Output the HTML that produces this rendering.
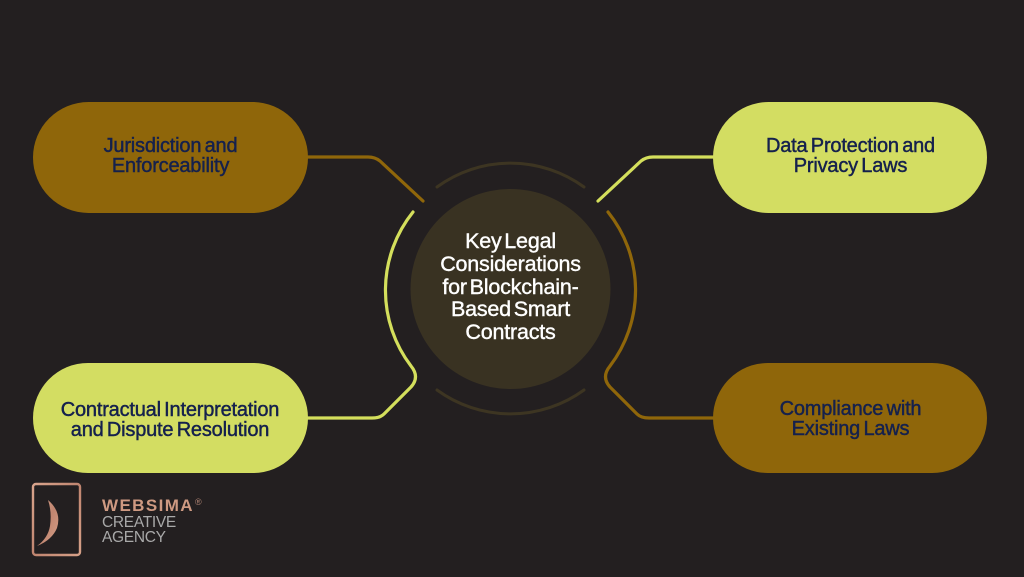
<!DOCTYPE html>
<html>
<head>
<meta charset="utf-8">
<style>
  html, body { margin: 0; padding: 0; background: #231f20; }
  body { width: 1024px; height: 577px; overflow: hidden; }
  svg { display: block; }
  .pt { font-family: "Liberation Sans", Arial, sans-serif; font-size: 20px; fill: #15214d; stroke: #15214d; stroke-width: 0.45px; word-spacing: -2px; letter-spacing: -0.2px; }
  .ct { font-family: "Liberation Sans", Arial, sans-serif; font-size: 21.5px; fill: #ffffff; stroke: #ffffff; stroke-width: 0.4px; word-spacing: -3px; letter-spacing: -0.2px; }
</style>
</head>
<body>
<svg width="1024" height="577" viewBox="0 0 1024 577" xmlns="http://www.w3.org/2000/svg">
  <rect x="0" y="0" width="1024" height="577" fill="#231f20"/>

  <!-- faint top/bottom arcs -->
  <path d="M 437 187 A 125 125 0 0 1 584 187" fill="none" stroke="#3d3522" stroke-width="3" stroke-linecap="round"/>
  <path d="M 437 390 A 125 125 0 0 0 584 390" fill="none" stroke="#3d3522" stroke-width="3" stroke-linecap="round"/>

  <!-- center circle -->
  <circle cx="510.5" cy="289" r="100" fill="#393222"/>

  <!-- connectors -->
  <path d="M 306 157 L 368 157 Q 375 157 380 161 L 423 201" fill="none" stroke="#8f660a" stroke-width="3.2" stroke-linecap="round" stroke-linejoin="round"/>
  <path d="M 715 157 L 653 157 Q 646 157 641 161 L 598 201" fill="none" stroke="#d4df5c" stroke-width="3.2" stroke-linecap="round" stroke-linejoin="round"/>
  <path d="M 413 212 A 125 125 0 0 0 411 366 Q 420 377 411 387 L 384 414 Q 380 418 372 418 L 306 418" fill="none" stroke="#d4df5c" stroke-width="3.2" stroke-linecap="round" stroke-linejoin="round"/>
  <path d="M 608 212 A 125 125 0 0 1 610 366 Q 601 377 610 387 L 637 414 Q 641 418 649 418 L 715 418" fill="none" stroke="#8f660a" stroke-width="3.2" stroke-linecap="round" stroke-linejoin="round"/>

  <!-- pills -->
  <rect x="33" y="102" width="275" height="111" rx="55.5" fill="#8f660a"/>
  <rect x="713" y="102" width="274" height="111" rx="55.5" fill="#d3dd62"/>
  <rect x="33" y="363" width="275" height="110" rx="55" fill="#d3dd62"/>
  <rect x="713" y="363" width="274" height="110" rx="55" fill="#8f660a"/>

  <!-- pill text -->
  <text class="pt" text-anchor="middle" x="170.5" y="152">Jurisdiction and</text>
  <text class="pt" text-anchor="middle" x="170.5" y="172">Enforceability</text>

  <text class="pt" text-anchor="middle" x="850.5" y="152">Data Protection and</text>
  <text class="pt" text-anchor="middle" x="850.5" y="172">Privacy Laws</text>

  <text class="pt" text-anchor="middle" x="170" y="416">Contractual Interpretation</text>
  <text class="pt" text-anchor="middle" x="170" y="436">and Dispute Resolution</text>

  <text class="pt" text-anchor="middle" x="850.5" y="415">Compliance with</text>
  <text class="pt" text-anchor="middle" x="850.5" y="435">Existing Laws</text>

  <!-- center text -->
  <text class="ct" text-anchor="middle" x="510.5" y="248">Key Legal</text>
  <text class="ct" text-anchor="middle" x="510.5" y="271">Considerations</text>
  <text class="ct" text-anchor="middle" x="510.5" y="294">for Blockchain-</text>
  <text class="ct" text-anchor="middle" x="510.5" y="316">Based Smart</text>
  <text class="ct" text-anchor="middle" x="510.5" y="339">Contracts</text>

  <!-- logo -->
  <defs>
    <linearGradient id="cu" x1="0" y1="0" x2="1" y2="1">
      <stop offset="0" stop-color="#d9a48c"/>
      <stop offset="0.5" stop-color="#c08570"/>
      <stop offset="1" stop-color="#d6a088"/>
    </linearGradient>
  </defs>
  <rect x="33" y="484" width="47" height="71" rx="3" fill="none" stroke="url(#cu)" stroke-width="2.4"/>
  <path d="M 48 500 Q 62 512 57 528 Q 52 540 37 546 Q 48 538 50 526 Q 52 512 48 500 Z" fill="url(#cu)"/>
  <text x="102" y="511" font-family="'Liberation Sans', Arial, sans-serif" font-size="17" font-weight="bold" fill="#cf9a82" letter-spacing="1.4">WEBSIMA</text>
  <text x="195" y="505" font-family="'Liberation Sans', Arial, sans-serif" font-size="9" fill="#b08474">®</text>
  <text x="102" y="527" font-family="'Liberation Sans', Arial, sans-serif" font-size="15.5" fill="#a9a9a9" letter-spacing="-0.3">CREATIVE</text>
  <text x="102" y="542" font-family="'Liberation Sans', Arial, sans-serif" font-size="15.5" fill="#a9a9a9" letter-spacing="-0.3">AGENCY</text>
</svg>
</body>
</html>
